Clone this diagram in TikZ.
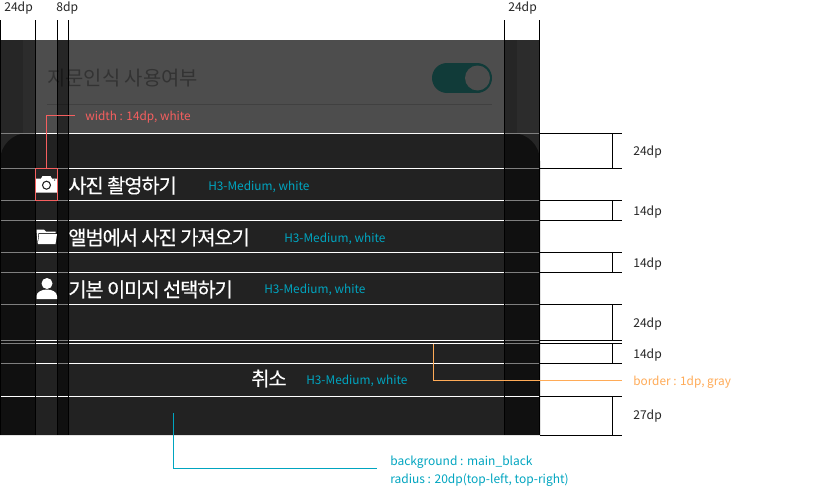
\documentclass[tikz,border=0pt]{standalone}
\usepackage{fontspec}
\setmainfont{Noto Sans CJK KR}
\newfontfamily\medfont[FakeBold=0.3,LetterSpace=-5.6]{Noto Sans CJK KR}
\definecolor{teal0}{HTML}{00A5C0}
\definecolor{red0}{HTML}{F65F5F}
\definecolor{org0}{HTML}{FFAB57}
\definecolor{scrim}{HTML}{4D4D4D}
\definecolor{sheet}{HTML}{222222}
\definecolor{titlec}{HTML}{333333}
\definecolor{sepc}{HTML}{404040}
\definecolor{toggle}{HTML}{113B39}
\begin{document}
\begin{tikzpicture}[x=0.75pt,y=-0.75pt,
  lab/.style={inner sep=0pt,font=\fontsize{8.87pt}{10pt}\selectfont,anchor=west,yshift=-1pt},
  dim/.style={lab,text=black!85,font=\fontsize{9.1pt}{10pt}\selectfont},
  item/.style={inner sep=0pt,anchor=west,text=white,font=\medfont\fontsize{14.9pt}{16pt}\selectfont},
  spec/.style={lab,text=teal0,font=\fontsize{8.9pt}{10pt}\selectfont},
  wline/.style={white,line width=0.75pt},
  bline/.style={black,line width=0.75pt},
  lead/.style={line width=0.75pt}]
\useasboundingbox (0,0) rectangle (820,489);
\fill[white] (0,0) rectangle (820,489);
% scrim and sheet
\fill[scrim] (0,40) rectangle (540,165);
\fill[sheet] (0,435) -- (0,161) .. controls (0,145.5) and (12.5,133) .. (28,133) -- (512,133) .. controls (527.5,133) and (540,145.5) .. (540,161) -- (540,435) -- cycle;
% scrim contents
\node[inner sep=0pt,anchor=west,text=titlec,font=\fontsize{14.9pt}{16pt}\selectfont] (title) at (47,78) {지문인식 사용여부};
\draw[sepc,line width=0.75pt] (47,104.5) -- (492,104.5);
\fill[toggle] (447,63) rectangle (477,93);
\fill[toggle] (447,78) circle[radius=15];
\fill[toggle] (477,78) circle[radius=15];
\fill[scrim] (477.5,78) circle[radius=12.5];
% horizontal white guides
\foreach \yy in {133.5,168.5,200.5,220.5,252.5,272.5,304.5,340.5,343.5,363.5}
  \draw[wline] (0,\yy) -- (540,\yy);
% dark column overlays
\fill[black,opacity=0.5] (0,40) rectangle (35.5,435);
\fill[black,opacity=0.5] (57.5,40) rectangle (68.5,435);
\fill[black,opacity=0.5] (504.5,40) rectangle (540,435);
\fill[white,opacity=0.03] (23,40) rectangle (35.5,133);
\fill[white,opacity=0.03] (517,40) rectangle (540,133);
\draw[wline] (0,396.5) -- (540,396.5);
% vertical guides
\foreach \xx in {0.5,35.5,57.5,68.5,504.5,539.5}
  \draw[bline] (\xx,20) -- (\xx,435);
% right dimension lines
\foreach \yy in {133.5,168.5,200.5,220.5,252.5,272.5,304.5,340.5,343.5,363.5,396.5,435.5}
  \draw[bline] (540,\yy) -- (622,\yy);
\foreach \ya/\yb in {133.5/168.5,200.5/220.5,252.5/272.5,304.5/340.5,343.5/363.5,396.5/435.5}
  \draw[bline] (612.5,\ya) -- (612.5,\yb);
% top labels
\node[dim] (t1) at (4,6.5) {24dp};
\node[dim] (t2) at (56,6.5) {8dp};
\node[dim] (t3) at (508,6.5) {24dp};
% right labels
\node[dim] (r1) at (633,150.5) {24dp};
\node[dim] (r2) at (633,211) {14dp};
\node[dim] (r3) at (633,263) {14dp};
\node[dim] (r4) at (633,322.5) {24dp};
\node[dim] (r5) at (633,353.5) {14dp};
\node[dim] (r6) at (633,415) {27dp};
% items
\node[item] (i1) at (68,185.5) {사진 촬영하기};
\node[item] (i2) at (68,237.5) {앨범에서 사진 가져오기};
\node[item] (i3) at (68,289.5) {기본 이미지 선택하기};
\node[item] (i4) at (251,378.5) {취소};
\node[spec] (s1) at (208,186) {H3-Medium, white};
\node[spec] (s2) at (284,238) {H3-Medium, white};
\node[spec] (s3) at (264,289) {H3-Medium, white};
\node[spec] (s4) at (306,380) {H3-Medium, white};
% camera icon
\fill[white] (36,178.5) -- (41,178.5) -- (42.5,176) -- (50.5,176) -- (52,178.5) -- (57,178.5) -- (57,192.5) -- (36,192.5) -- cycle;
\draw[fill=white,draw=sheet,line width=0.8pt] (46.5,185.2) circle[radius=4];
\fill[sheet] (54.7,180) circle[radius=0.7];
% folder icon
\fill[white] (36.5,229.5) -- (44,229.5) -- (46,231.5) -- (55.5,231.5) -- (55.5,233) -- (38.5,233) -- (37.5,243) -- cycle;
\fill[white] (39.2,234) -- (57,234) -- (55.5,244) -- (37.8,244) -- cycle;
% person icon
\fill[white] (47,283.5) circle[radius=5.5];
\fill[white] (36.5,299) -- (36.5,296) .. controls (36.5,292) and (42,289.5) .. (47,289.5) .. controls (52,289.5) and (57,292) .. (57,296) -- (57,299) -- cycle;
% red annotation
\draw[red0,line width=0.75pt] (35.5,168.5) rectangle (57.5,200.5);
\coordinate (redA) at (46.5,168.5);
\coordinate (redB) at (75,115.5);
\draw[red0,lead] (redA) |- (redB);
\node[lab,text=red0] (redL) at (85,115.5) {width : 14dp, white};
% orange annotation
\coordinate (orgA) at (433.5,343.5);
\coordinate (orgB) at (622,380.5);
\draw[org0,lead] (orgA) |- (orgB);
\node[lab,text=org0] (orgL) at (633,380.5) {border : 1dp, gray};
% teal annotation
\coordinate (telA) at (173.5,413);
\coordinate (telB) at (377,468.5);
\draw[teal0,lead] (telA) |- (telB);
\node[spec,font=\fontsize{9pt}{10pt}\selectfont] (telL1) at (390,461) {background : main\_black};
\node[spec,font=\fontsize{9pt}{10pt}\selectfont] (telL2) at (390,479) {radius : 20dp(top-left, top-right)};
\end{tikzpicture}
\end{document}
